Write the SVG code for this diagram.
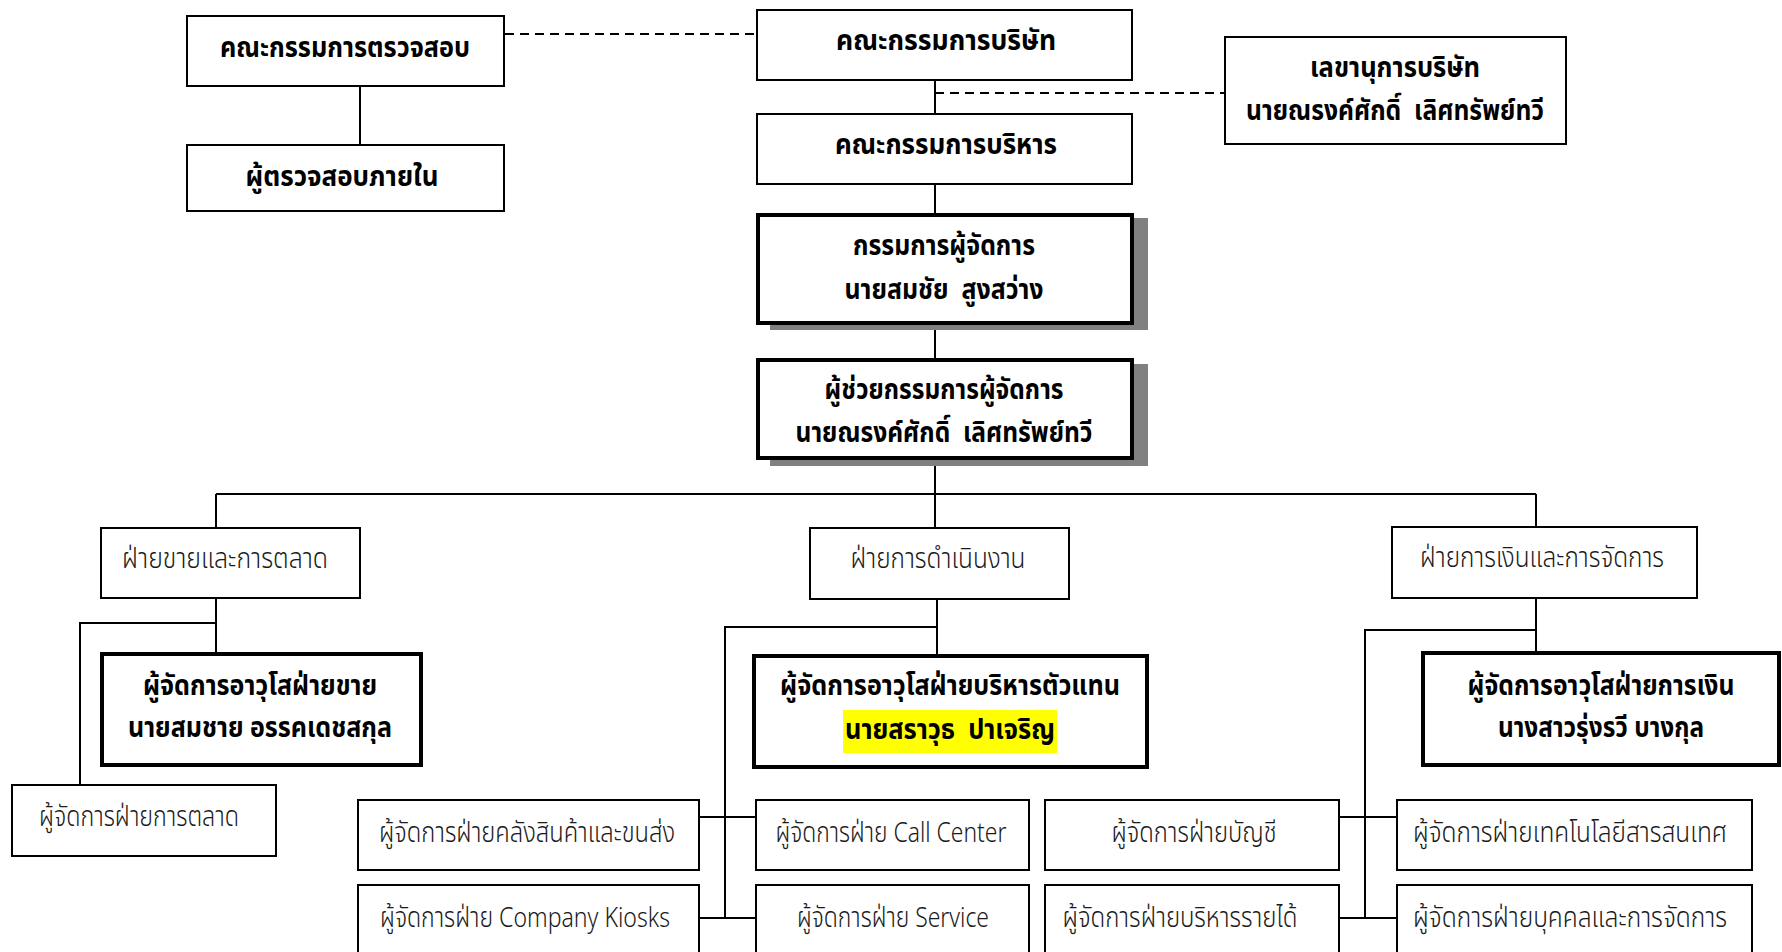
<svg xmlns="http://www.w3.org/2000/svg" width="1782" height="952" viewBox="0 0 1782 952">
<style>
.box{fill:#fff;stroke:#000;stroke-width:2}
.thick{fill:#fff;stroke:#000;stroke-width:4}
.shadow{fill:#808080;stroke:none}
.ln{fill:none;stroke:#000;stroke-width:2}
.dash{fill:none;stroke:#000;stroke-width:2;stroke-dasharray:9 6}
text{font-family:"Noto Sans Thai","Noto Sans Thai UI","Tlwg Typist","Garuda","Loma","Noto Sans","DejaVu Sans",sans-serif;text-anchor:middle;fill:#000;white-space:pre}
.b{font-size:29px;font-weight:bold}
.r{font-size:28px;font-weight:300;fill:#1a1a1a}
</style>
<rect width="1782" height="952" fill="#fff"/>
<g id="connectors">
<line class="dash" x1="505" y1="34" x2="756" y2="34"/>
<line class="dash" x1="935" y1="93" x2="1224" y2="93"/>
<line class="ln" x1="360" y1="87" x2="360" y2="144"/>
<line class="ln" x1="935" y1="81" x2="935" y2="113"/>
<line class="ln" x1="935" y1="185" x2="935" y2="213"/>
<line class="ln" x1="935" y1="325" x2="935" y2="358"/>
<line class="ln" x1="935" y1="460" x2="935" y2="527"/>
<line class="ln" x1="216" y1="494" x2="1536" y2="494"/>
<line class="ln" x1="216" y1="494" x2="216" y2="527"/>
<line class="ln" x1="1536" y1="494" x2="1536" y2="526"/>
<line class="ln" x1="216" y1="599" x2="216" y2="652"/>
<polyline class="ln" points="216,623 80,623 80,784"/>
<line class="ln" x1="937" y1="600" x2="937" y2="654"/>
<polyline class="ln" points="937,627 725,627 725,918"/>
<line class="ln" x1="700" y1="817" x2="755" y2="817"/>
<line class="ln" x1="700" y1="918" x2="755" y2="918"/>
<line class="ln" x1="1536" y1="599" x2="1536" y2="651"/>
<polyline class="ln" points="1536,630 1365,630 1365,918"/>
<line class="ln" x1="1340" y1="817" x2="1396" y2="817"/>
<line class="ln" x1="1340" y1="918" x2="1396" y2="918"/>
</g>
<g id="audit-committee"><rect class="box" x="187" y="16" width="317" height="70"/><text class="b" x="345" y="57" textLength="250" lengthAdjust="spacingAndGlyphs">คณะกรรมการตรวจสอบ</text></g>
<g id="internal-auditor"><rect class="box" x="187" y="145" width="317" height="66"/><text class="b" x="342" y="186" textLength="193" lengthAdjust="spacingAndGlyphs">ผู้ตรวจสอบภายใน</text></g>
<g id="board"><rect class="box" x="757" y="10" width="375" height="70"/><text class="b" x="946" y="50" textLength="220" lengthAdjust="spacingAndGlyphs">คณะกรรมการบริษัท</text></g>
<g id="exec-committee"><rect class="box" x="757" y="114" width="375" height="70"/><text class="b" x="946" y="154" textLength="222" lengthAdjust="spacingAndGlyphs">คณะกรรมการบริหาร</text></g>
<g id="secretary"><rect class="box" x="1225" y="37" width="341" height="107"/><text class="b" x="1395" y="77" textLength="170" lengthAdjust="spacingAndGlyphs">เลขานุการบริษัท</text><text class="b" x="1395" y="120" textLength="298" lengthAdjust="spacingAndGlyphs">นายณรงค์ศักดิ์  เลิศทรัพย์ทวี</text></g>
<g id="md"><rect class="shadow" x="770" y="218" width="378" height="112"/><rect class="thick" x="758" y="215" width="374" height="108"/><text class="b" x="944" y="255" textLength="182" lengthAdjust="spacingAndGlyphs">กรรมการผู้จัดการ</text><text class="b" x="944" y="299" textLength="199" lengthAdjust="spacingAndGlyphs">นายสมชัย  สูงสว่าง</text></g>
<g id="amd"><rect class="shadow" x="770" y="364" width="378" height="102"/><rect class="thick" x="758" y="360" width="374" height="98"/><text class="b" x="944" y="399" textLength="239" lengthAdjust="spacingAndGlyphs">ผู้ช่วยกรรมการผู้จัดการ</text><text class="b" x="944" y="442" textLength="297" lengthAdjust="spacingAndGlyphs">นายณรงค์ศักดิ์  เลิศทรัพย์ทวี</text></g>
<g id="div-sales"><rect class="box" x="101" y="528" width="259" height="70"/><text class="r" x="225" y="568" textLength="206" lengthAdjust="spacingAndGlyphs">ฝ่ายขายและการตลาด</text></g>
<g id="div-ops"><rect class="box" x="810" y="528" width="259" height="71"/><text class="r" x="938" y="568" textLength="175" lengthAdjust="spacingAndGlyphs">ฝ่ายการดำเนินงาน</text></g>
<g id="div-fin"><rect class="box" x="1392" y="527" width="305" height="71"/><text class="r" x="1542" y="567" textLength="244" lengthAdjust="spacingAndGlyphs">ฝ่ายการเงินและการจัดการ</text></g>
<g id="sales-svp"><rect class="thick" x="102" y="654" width="319" height="111"/><text class="b" x="260" y="695" textLength="234" lengthAdjust="spacingAndGlyphs">ผู้จัดการอาวุโสฝ่ายขาย</text><text class="b" x="260" y="737" textLength="264" lengthAdjust="spacingAndGlyphs">นายสมชาย อรรคเดชสกุล</text></g>
<g id="ops-svp"><rect class="thick" x="754" y="656" width="393" height="111"/><rect x="843" y="710" width="214" height="43" fill="#ffff00"/><text class="b" x="950" y="695" textLength="340" lengthAdjust="spacingAndGlyphs">ผู้จัดการอาวุโสฝ่ายบริหารตัวแทน</text><text class="b" x="950" y="739" textLength="210" lengthAdjust="spacingAndGlyphs">นายสราวุธ  ปาเจริญ</text></g>
<g id="fin-svp"><rect class="thick" x="1423" y="653" width="356" height="112"/><text class="b" x="1601" y="695" textLength="267" lengthAdjust="spacingAndGlyphs">ผู้จัดการอาวุโสฝ่ายการเงิน</text><text class="b" x="1601" y="737" textLength="206" lengthAdjust="spacingAndGlyphs">นางสาวรุ่งรวี บางกุล</text></g>
<g id="mkt"><rect class="box" x="12" y="785" width="264" height="71"/><text class="r" x="139" y="826" textLength="200" lengthAdjust="spacingAndGlyphs">ผู้จัดการฝ่ายการตลาด</text></g>
<g id="warehouse"><rect class="box" x="358" y="800" width="341" height="70"/><text class="r" x="527" y="842" textLength="296" lengthAdjust="spacingAndGlyphs">ผู้จัดการฝ่ายคลังสินค้าและขนส่ง</text></g>
<g id="callcenter"><rect class="box" x="756" y="800" width="273" height="70"/><text class="r" x="891" y="842" textLength="231" lengthAdjust="spacingAndGlyphs">ผู้จัดการฝ่าย Call Center</text></g>
<g id="accounting"><rect class="box" x="1045" y="800" width="294" height="70"/><text class="r" x="1194" y="842" textLength="165" lengthAdjust="spacingAndGlyphs">ผู้จัดการฝ่ายบัญชี</text></g>
<g id="it"><rect class="box" x="1397" y="800" width="355" height="70"/><text class="r" x="1570" y="842" textLength="314" lengthAdjust="spacingAndGlyphs">ผู้จัดการฝ่ายเทคโนโลยีสารสนเทศ</text></g>
<g id="kiosks"><rect class="box" x="358" y="885" width="341" height="100"/><text class="r" x="525" y="927" textLength="290" lengthAdjust="spacingAndGlyphs">ผู้จัดการฝ่าย Company Kiosks</text></g>
<g id="service"><rect class="box" x="756" y="885" width="273" height="100"/><text class="r" x="893" y="927" textLength="192" lengthAdjust="spacingAndGlyphs">ผู้จัดการฝ่าย Service</text></g>
<g id="revenue"><rect class="box" x="1045" y="885" width="294" height="100"/><text class="r" x="1180" y="927" textLength="235" lengthAdjust="spacingAndGlyphs">ผู้จัดการฝ่ายบริหารรายได้</text></g>
<g id="hr"><rect class="box" x="1397" y="885" width="355" height="100"/><text class="r" x="1570" y="927" textLength="314" lengthAdjust="spacingAndGlyphs">ผู้จัดการฝ่ายบุคคลและการจัดการ</text></g>
</svg>
